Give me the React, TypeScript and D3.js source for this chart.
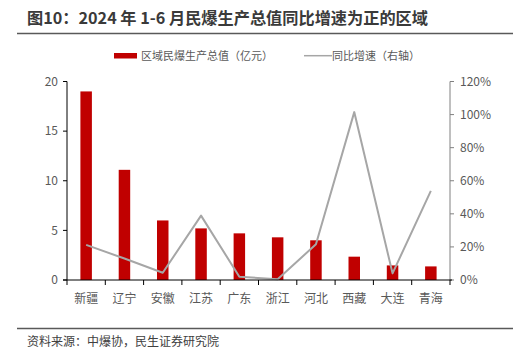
import React from "react";
import * as d3 from "d3";

const categories = ["新疆", "辽宁", "安徽", "江苏", "广东", "浙江", "河北", "西藏", "大连", "青海"];
const outputValues = [19.0, 11.1, 6.0, 5.2, 4.7, 4.3, 4.0, 2.35, 1.47, 1.37];
const growthPct = [21.2, 13, 4.4, 38.9, 2.0, 0.4, 21.6, 101.5, 4.0, 53.9];
const leftTicks = [0, 5, 10, 15, 20];
const rightTicks = [0, 20, 40, 60, 80, 100, 120];
const title = "图10：2024 年 1-6 月民爆生产总值同比增速为正的区域";
const source = "资料来源：中爆协，民生证券研究院";
const legendBar = "区域民爆生产总值（亿元）";
const legendLine = "同比增速（右轴）";

const W = 527;
const H = 357;
const font = "'Noto Sans CJK SC', 'Noto Sans', sans-serif";

export default function App() {
  const left = 67, right = 450, top = 81.5, bottom = 280;
  const x = d3.scaleBand<string>().domain(categories).range([left, right]).paddingInner(0.7).paddingOuter(0.35);
  const xb = d3.scaleBand<string>().domain(categories).range([left, right]);
  const yL = d3.scaleLinear().domain([0, 20]).range([bottom, top]);
  const yR = d3.scaleLinear().domain([0, 120]).range([bottom, top]);
  const line = d3
    .line<number>()
    .x((_, i) => (xb(categories[i]) as number) + xb.bandwidth() / 2)
    .y((d) => yR(d));
  const boundaries = categories.map((c) => xb(c) as number).concat([right]);
  const gray = "#595959";

  return (
    <svg width={W} height={H} style={{ position: "absolute", left: 0, top: 0 }} fontFamily={font}>
      <rect width={W} height={H} fill="#fff" />
      <text x={27} y={24} fontSize={16.2} fontWeight="bold" fill="#3a3a3a">{title}</text>
      <line x1={17} x2={513} y1={33.5} y2={33.5} stroke="#595959" strokeWidth={1.5} />

      {/* legend */}
      <rect x={114} y={53} width={23} height={5.5} fill="#C00000" />
      <text x={141} y={59.5} fontSize={11} fill={gray}>{legendBar}</text>
      <line x1={304} x2={332} y1={55.7} y2={55.7} stroke="#A6A6A6" strokeWidth={1.5} />
      <text x={332} y={59.5} fontSize={11} fill={gray}>{legendLine}</text>

      {/* bars */}
      {outputValues.map((v, i) => (
        <rect key={i} x={x(categories[i])} y={yL(v)} width={x.bandwidth()} height={bottom - yL(v)} fill="#C00000" />
      ))}

      {/* line */}
      <path d={line(growthPct) || ""} fill="none" stroke="#A6A6A6" strokeWidth={2} strokeLinejoin="round" />

      {/* left axis */}
      <line x1={left} x2={left} y1={top} y2={bottom} stroke="#000" strokeWidth={1} />
      {leftTicks.map((t) => (
        <g key={t}>
          <line x1={left - 4} x2={left} y1={yL(t)} y2={yL(t)} stroke="#000" />
          <text x={left - 9} y={yL(t)} dy="0.35em" textAnchor="end" fontSize={12} fill={gray}>{t}</text>
        </g>
      ))}

      {/* right axis */}
      <line x1={right} x2={right} y1={top} y2={bottom} stroke="#808080" strokeWidth={1} />
      {rightTicks.map((t) => (
        <g key={t}>
          <line x1={right} x2={right + 4} y1={yR(t)} y2={yR(t)} stroke="#808080" />
          <text x={right + 10} y={yR(t)} dy="0.35em" textAnchor="start" fontSize={12} fill={gray}>{t}%</text>
        </g>
      ))}

      {/* bottom axis */}
      <line x1={left - 4} x2={right + 2} y1={bottom} y2={bottom} stroke="#000" strokeWidth={1} />
      {boundaries.map((b, i) => (
        <line key={i} x1={b} x2={b} y1={bottom} y2={bottom + 5} stroke="#000" />
      ))}
      {categories.map((c) => (
        <text key={c} x={(xb(c) as number) + xb.bandwidth() / 2} y={303} textAnchor="middle" fontSize={12} fill={gray}>{c}</text>
      ))}

      <line x1={17} x2={513} y1={328.5} y2={328.5} stroke="#595959" strokeWidth={1.5} />
      <text x={27} y={346} fontSize={12} fill="#404040">{source}</text>
    </svg>
  );
}
